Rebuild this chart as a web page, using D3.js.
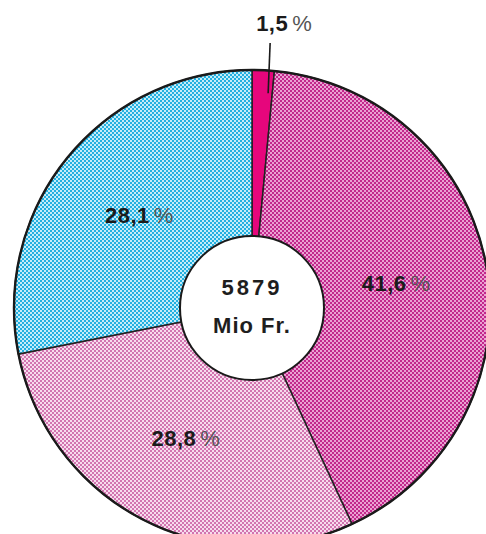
<!DOCTYPE html>
<html>
<head>
<meta charset="utf-8">
<script src="https://cdn.jsdelivr.net/npm/d3@7"></script>
<style>
  body { margin: 0; background: #fff; }
  svg { display: block; }
</style>
</head>
<body>
<div id="chart"></div>
<script>
// shares of the 5879 Mio Fr. total, clockwise from 12 o'clock
const labels = ["1,5", "41,6", "28,8", "28,1"];
const values = [1.5, 41.6, 28.8, 28.1];
const patterns = ["solidRed", "magentaCheck", "pinkDots", "blueCheck"];
const total = ["5879", "Mio Fr."];

const width = 486,
  height = 534;
const cx = 252, cy = 308;
const radius = 238, hole = 72;

const svg = d3.select("#chart")
  .append("svg")
  .attr("width", width)
  .attr("height", height);

const defs = svg.append("defs");

// small checkerboard fills to mimic the printed screens
function checker(id, bg, fg, size) {
  const p = defs.append("pattern")
    .attr("id", id)
    .attr("patternUnits", "userSpaceOnUse")
    .attr("width", size * 2)
    .attr("height", size * 2);
  p.append("rect").attr("width", size * 2).attr("height", size * 2).attr("fill", bg);
  p.append("rect").attr("width", size).attr("height", size).attr("fill", fg);
  p.append("rect").attr("x", size).attr("y", size).attr("width", size).attr("height", size).attr("fill", fg);
}
checker("magentaCheck", "#eaa2d2", "#c2288c", 2);
checker("blueCheck", "#c4ecf9", "#22b0e0", 2);
checker("pinkDots", "#f7dced", "#d274b0", 2);
defs.append("pattern")
  .attr("id", "solidRed")
  .attr("patternUnits", "userSpaceOnUse")
  .attr("width", 4).attr("height", 4)
  .append("rect").attr("width", 4).attr("height", 4).attr("fill", "#e6067c");

const pie = d3.pie().sort(null).value(d => d)(values);
const arc = d3.arc().innerRadius(0).outerRadius(radius);
const labelArc = d3.arc().innerRadius(146).outerRadius(146);

const g = svg.append("g").attr("transform", `translate(${cx},${cy})`);

//slices
g.append("g")
  .selectAll("path")
  .data(pie)
  .join("path")
  .attr("d", arc)
  .attr("fill", (d, i) => `url(#${patterns[i]})`)
  .attr("stroke", "#222")
  .attr("stroke-width", 1.5);

// outer rim
g.append("circle")
  .attr("r", radius)
  .attr("fill", "none")
  .attr("stroke", "#1a1a1a")
  .attr("stroke-width", 2.4);

// white centre
g.append("circle")
  .attr("r", hole)
  .attr("fill", "#fff")
  .attr("stroke", "#1a1a1a")
  .attr("stroke-width", 2);

g.append("text")
  .attr("y", -13)
  .attr("text-anchor", "middle")
  .attr("font-family", "Liberation Sans, Arial, sans-serif")
  .attr("font-weight", "bold")
  .attr("font-size", 22)
  .attr("letter-spacing", 3)
  .attr("fill", "#1e1e1e")
  .text(total[0]);

g.append("text")
  .attr("y", 25)
  .attr("text-anchor", "middle")
  .attr("font-family", "Liberation Sans, Arial, sans-serif")
  .attr("font-weight", "bold")
  .attr("font-size", 22)
  .attr("letter-spacing", 1)
  .attr("fill", "#1e1e1e")
  .text(total[1]);

// percentage labels (small slice gets an outside label with a leader)
function pctLabel(sel, text) {
  sel.append("tspan")
    .attr("font-weight", "bold")
    .attr("fill", "#1b1b1b")
    .attr("letter-spacing", 0.5)
    .text(text);
  sel.append("tspan")
    .attr("font-weight", "normal")
    .attr("fill", "#555")
    .attr("dx", 4)
    .text("%");
}

const leader = svg.append("g");

pie.forEach((d, i) => {
  if (i === 0) {
    const mid = (d.startAngle + d.endAngle) / 2;
    const x0 = cx + Math.sin(mid) * (radius - 23) + 6;
    const y0 = cy - Math.cos(mid) * (radius - 23);
    const y1 = cy - radius - 27;
    leader.append("line")
      .attr("x1", x0)
      .attr("y1", y0)
      .attr("x2", x0 + 2)
      .attr("y2", y1)
      .style("stroke", "#1a1a1a")
      .style("stroke-width", "1.6px");
    const t = leader.append("text")
      .attr("x", x0 - 12)
      .attr("y", y1 - 12)
      .attr("text-anchor", "start")
      .attr("font-family", "Liberation Sans, Arial, sans-serif")
      .attr("font-size", 22);
    pctLabel(t, labels[i]);
  } else {
    const [x, y] = labelArc.centroid(d);
    const t = g.append("text")
      .attr("x", x)
      .attr("y", y)
      .attr("dy", "0.35em")
      .attr("text-anchor", "middle")
      .attr("font-family", "Liberation Sans, Arial, sans-serif")
      .attr("font-size", 22);
    pctLabel(t, labels[i]);
  }
});
</script>
</body>
</html>
